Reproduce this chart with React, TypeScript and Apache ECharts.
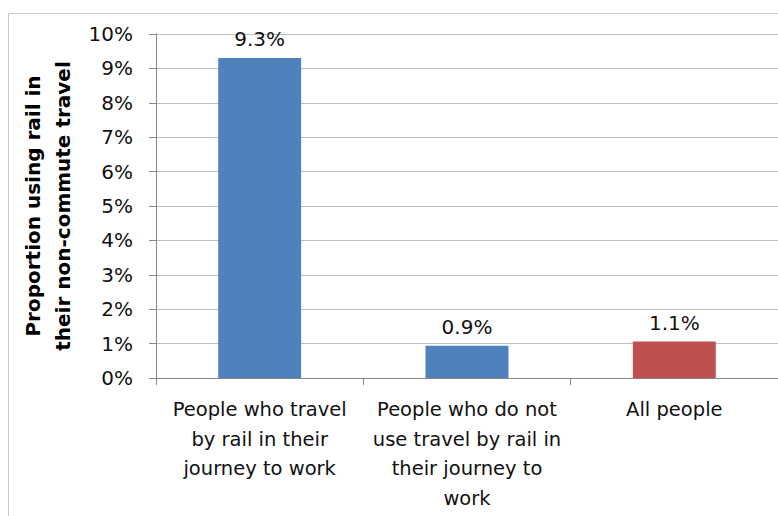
import React, { useEffect, useRef } from "react";
import * as echarts from "echarts";

const categories = [
  "People who travel\nby rail in their\njourney to work",
  "People who do not\nuse travel by rail in\ntheir journey to\nwork",
  "All people",
];
const values = [9.3, 0.94, 1.06];
const barColors = ["#4F81BD", "#4F81BD", "#C0504D"];
const yTicks = [0, 1, 2, 3, 4, 5, 6, 7, 8, 9, 10];
const yTitle = "Proportion using rail in\ntheir non-commute travel";

const FONT = "DejaVu Sans";

export default function App() {
  const ref = useRef<HTMLDivElement>(null);
  useEffect(() => {
    document.body.style.margin = "0";
    const chart = echarts.init(ref.current!, undefined, { renderer: "svg" });
    chart.setOption({
      animation: false,
      backgroundColor: "#ffffff",
      textStyle: { fontFamily: FONT },
      graphic: [
        {
          type: "rect",
          shape: { x: 8.5, y: 13.5, width: 900, height: 700 },
          style: { fill: "none", stroke: "#c8c8c8", lineWidth: 1 },
          silent: true,
          z: -1,
        },
      ],
      grid: { left: 156, top: 34, right: 0, bottom: 138, containLabel: false },
      xAxis: {
        type: "category",
        data: categories,
        boundaryGap: true,
        axisLine: { show: true, lineStyle: { color: "#868686", width: 1 } },
        axisTick: { show: true, length: 7, alignWithLabel: false, lineStyle: { color: "#868686" } },
        axisLabel: {
          interval: 0,
          margin: 17,
          color: "#111",
          fontSize: 19.5,
          lineHeight: 29.5,
          fontFamily: FONT,
          align: "center",
        },
      },
      yAxis: {
        type: "value",
        min: yTicks[0],
        max: yTicks[yTicks.length - 1],
        interval: 1,
        name: yTitle,
        nameLocation: "middle",
        nameGap: 76,
        nameTextStyle: {
          fontSize: 20,
          fontWeight: "bold",
          color: "#000",
          lineHeight: 30,
          fontFamily: FONT,
          align: "center",
        },
        axisLine: { show: true, lineStyle: { color: "#868686", width: 1 } },
        axisTick: { show: true, length: 7, lineStyle: { color: "#868686" } },
        splitLine: { show: true, lineStyle: { color: "#bfbfbf", width: 1 } },
        axisLabel: {
          margin: 23,
          color: "#111",
          fontSize: 20,
          fontFamily: FONT,
          formatter: (v: number) => `${v}%`,
        },
      },
      series: [
        {
          type: "bar",
          barWidth: "40%",
          data: values.map((v, i) => ({ value: v, itemStyle: { color: barColors[i] } })),
          label: {
            show: true,
            position: "top",
            distance: 9,
            color: "#111",
            fontSize: 20,
            fontFamily: FONT,
            formatter: (p: any) => `${(p.value as number).toFixed(1)}%`,
          },
        },
      ],
    });
    return () => chart.dispose();
  }, []);
  return <div ref={ref} style={{ position: "fixed", left: 0, top: 0, width: 778, height: 516 }} />;
}
